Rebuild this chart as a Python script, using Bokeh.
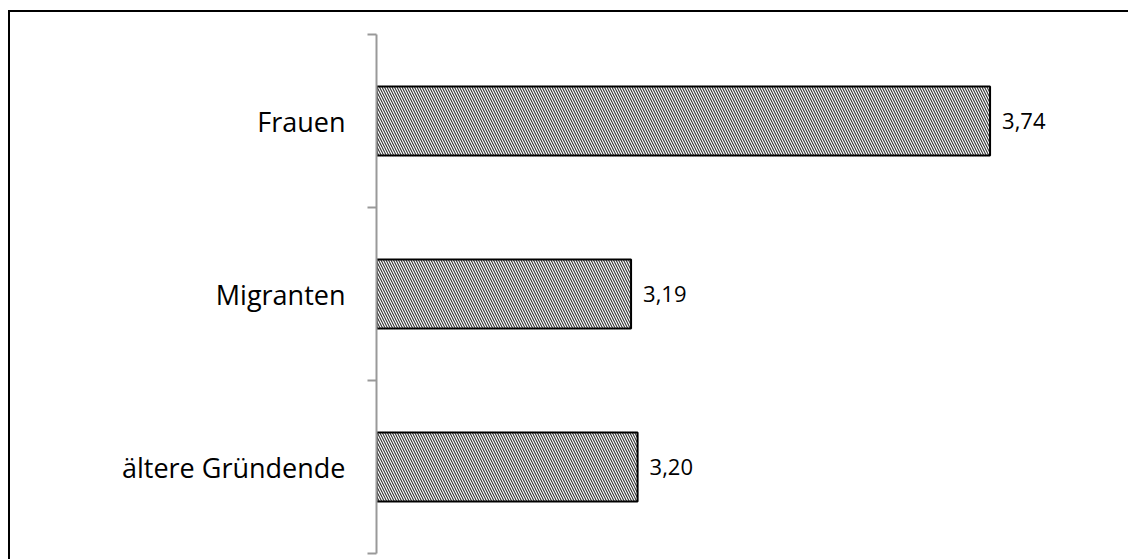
from bokeh.plotting import figure
from bokeh.models import ColumnDataSource, Range1d, FixedTicker
from bokeh.core.properties import value
from bokeh.embed import file_html
from bokeh.resources import INLINE

categories = ["Frauen", "Migranten", "ältere Gründende"]
values = [3.74, 3.19, 3.20]
x_start, x_end = 2.8, 3.9

n = len(categories)
ypos = [n - i - 0.5 for i in range(n)]
labels = [f"{v:.2f}".replace(".", ",") for v in values]

src = ColumnDataSource(dict(y=ypos, right=values, left=[x_start] * n, lab=labels, cat=categories))

p = figure(width=1130, height=560, output_backend="svg", toolbar_location=None,
           x_range=Range1d(x_start, x_end), y_range=Range1d(0, n),
           min_border_left=366, min_border_right=46, min_border_top=22, min_border_bottom=19)
p.styles = {"border": "2px solid black", "margin-top": "10px", "margin-left": "8px"}
p.outline_line_color = None
p.grid.visible = False
p.xaxis.visible = False

p.hbar(y="y", left="left", right="right", height=0.4, source=src,
       fill_color="white", line_color="black", line_width=2,
       hatch_pattern="\\", hatch_color="#333333", hatch_scale=5, hatch_weight=1.1)

p.text(x="right", y="y", text="lab", source=src, x_offset=12,
       text_align="left", text_baseline="middle",
       text_font=value("Open Sans"), text_font_size="22px", text_color="black")

ax = p.yaxis[0]
ax.ticker = FixedTicker(ticks=ypos, minor_ticks=list(range(n + 1)))
ax.major_label_overrides = {y: c for y, c in zip(ypos, categories)}
ax.major_tick_in = 0
ax.major_tick_out = 0
ax.minor_tick_in = 0
ax.minor_tick_out = 9
ax.axis_line_color = "#999999"
ax.axis_line_width = 2
ax.minor_tick_line_color = "#999999"
ax.minor_tick_line_width = 2
ax.major_label_standoff = 22
ax.major_label_text_font = "Open Sans"
ax.major_label_text_font_size = "27px"
ax.major_label_text_color = "black"

open("out.html", "w").write(file_html(p, INLINE))
